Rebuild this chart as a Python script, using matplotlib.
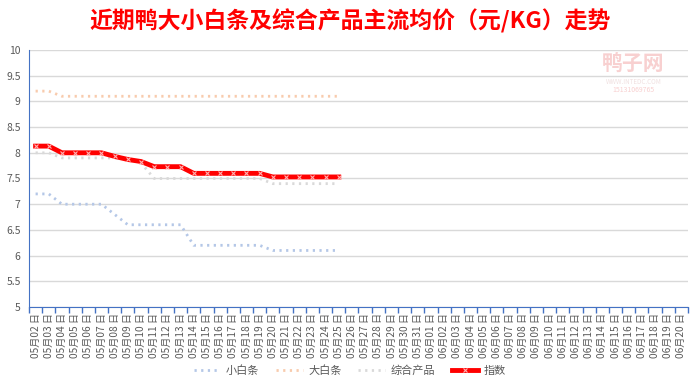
import matplotlib.pyplot as plt
import matplotlib.ticker as mticker
import numpy as np

plt.rcParams['font.family'] = ['Noto Sans CJK SC', 'DejaVu Sans']

#---------------------data------------------------
dates = ['05月%02d 日' % d for d in range(2, 32)] + ['06月%02d 日' % d for d in range(1, 21)]
small_white = [7.2, 7.2, 7.0, 7.0, 7.0, 7.0, 6.8, 6.6, 6.6, 6.6, 6.6, 6.6,
               6.2, 6.2, 6.2, 6.2, 6.2, 6.2, 6.1, 6.1, 6.1, 6.1, 6.1, 6.1]
big_white = [9.2, 9.2, 9.1, 9.1, 9.1, 9.1, 9.1, 9.1, 9.1, 9.1, 9.1, 9.1,
             9.1, 9.1, 9.1, 9.1, 9.1, 9.1, 9.1, 9.1, 9.1, 9.1, 9.1, 9.1]
combined = [8.0, 8.0, 7.9, 7.9, 7.9, 7.9, 7.9, 7.9, 7.8, 7.5, 7.5, 7.5,
            7.5, 7.5, 7.5, 7.5, 7.5, 7.5, 7.4, 7.4, 7.4, 7.4, 7.4, 7.4]
index_vals = [8.13, 8.13, 8.0, 8.0, 8.0, 8.0, 7.93, 7.87, 7.83, 7.73, 7.73, 7.73,
              7.6, 7.6, 7.6, 7.6, 7.6, 7.6, 7.53, 7.53, 7.53, 7.53, 7.53, 7.53]
series_names = ['小白条', '大白条', '综合产品', '指数']

#---------------------figure------------------------
fig = plt.figure(figsize=(7, 3.89), dpi=100)
ax = fig.add_axes([29/700, 1 - 307/389, (688 - 29)/700, (307 - 50)/389])

x = np.arange(len(small_white))
dot = (0, (0.8, 1.6))
ax.plot(x, small_white, color='#B4C7E7', lw=2, linestyle=dot, label=series_names[0])
ax.plot(x, big_white, color='#F8CBAD', lw=2, linestyle=dot, label=series_names[1])
ax.plot(x, combined, color='#D9D9D9', lw=2, linestyle=dot, label=series_names[2])
ax.plot(x, index_vals, color='#FF0000', lw=3.5, marker='x', markersize=2.5,
        markeredgecolor='#FFB0B0', markeredgewidth=0.8, label=series_names[3], zorder=5)

ax.set_xlim(-0.5, len(dates) - 0.5)
ax.set_ylim(5, 10)
ax.yaxis.set_major_locator(mticker.MultipleLocator(0.5))
ax.yaxis.set_major_formatter(mticker.FuncFormatter(lambda v, p: '%g' % v))
ax.grid(axis='y', color='#D9D9D9', lw=1)
ax.set_axisbelow(True)

ax.set_xticks(np.arange(len(dates)))
ax.set_xticklabels(dates, rotation=90, fontsize=7.3, color='#595959')
ax.set_xticks(np.arange(len(dates) + 1) - 0.5, minor=True)
ax.tick_params(axis='x', which='major', length=0, pad=4)
ax.tick_params(axis='x', which='minor', length=4, color='#4472C4', width=1, direction='out')
ax.tick_params(axis='y', length=0, labelsize=7.5, labelcolor='#595959', pad=6)

for s in ['top', 'right']:
    ax.spines[s].set_visible(False)
ax.spines['left'].set_color('#4472C4')
ax.spines['bottom'].set_color('#4472C4')

fig.text(0.5, 0.945, '近期鸭大小白条及综合产品主流均价（元/KG）走势', ha='center', va='center',
         fontsize=16.5, fontweight='bold', color='#FF0000')

# watermark
fig.text(0.905, 0.835, '鸭子网', ha='center', va='center', fontsize=15, color='#F8D0D0', fontweight='bold')
fig.text(0.905, 0.788, 'WWW.INTEDC.COM', ha='center', va='center', fontsize=4.5, color='#F0E0E0')
fig.text(0.905, 0.768, '15131069765', ha='center', va='center', fontsize=5, color='#F8D0D0')

fig.legend(loc='center', bbox_to_anchor=(0.5, 0.048), ncol=4, frameon=False,
           fontsize=8, labelcolor='#595959', handlelength=2.4, handletextpad=0.5,
           columnspacing=1.5)

fig.savefig('out.png', dpi=100)
